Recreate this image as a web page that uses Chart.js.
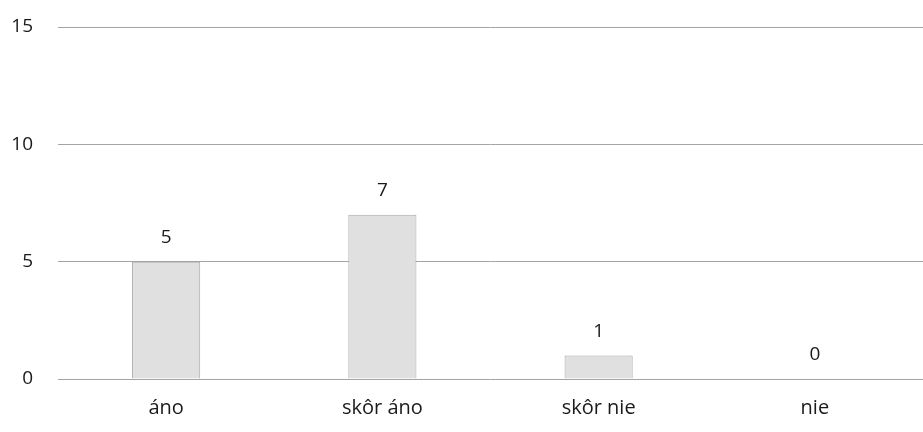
<!DOCTYPE html>
<html>
<head>
<meta charset="utf-8">
<script src="https://cdn.jsdelivr.net/npm/chart.js@4"></script>
<style>
	html, body { margin: 0; padding: 0; background: #fff; }
	#wrap { width: 923px; height: 432px; }
</style>
</head>
<body>
<div id="wrap"><canvas id="bar-chart"></canvas></div>
<script>
// chart data
const categories = [ 'áno', 'skôr áno', 'skôr nie', 'nie' ];
const answers = [ 5, 7, 1, 0 ];
const yTicks = [ 0, 5, 10, 15 ];

const fontFamily = '"Open Sans", "Liberation Sans", sans-serif';

// write the value above each bar
const valueLabels = {
	id: 'valueLabels',
	afterDatasetsDraw( chart ) {
		const c = chart.ctx;
		const meta = chart.getDatasetMeta( 0 );
		c.save();
		c.font = '19px ' + fontFamily;
		c.fillStyle = '#1a1a1a';
		c.textAlign = 'center';
		c.textBaseline = 'middle';
		meta.data.forEach( ( bar, i ) => {
			c.fillText( String( answers[ i ] ), bar.x, bar.y - 24 );
		} );
		c.restore();
	},
};

new Chart( document.getElementById( 'bar-chart' ), {
	type: 'bar',
	data: {
		labels: categories,
		datasets: [
			{
				data: answers,
				backgroundColor: '#e0e0e0',
				borderColor: '#a8a8a8',
				borderWidth: 1,
				barPercentage: 0.63,
				categoryPercentage: 0.5,
			},
		],
	},
	options: {
		responsive: true,
		maintainAspectRatio: false,
		animation: false,
		layout: { padding: { top: 27, right: 0, bottom: 0, left: 10 } },
		plugins: {
			legend: { display: false },
			tooltip: { enabled: false },
		},
		scales: {
			x: {
				grid: { display: false, drawTicks: false },
				border: { display: false },
				ticks: { color: '#1a1a1a', font: { family: fontFamily, size: 20 }, padding: 17 },
				afterFit: axis => {
					axis.height = 53;
				},
			},
			y: {
				min: yTicks[ 0 ],
				max: yTicks[ yTicks.length - 1 ],
				afterBuildTicks: axis => {
					axis.ticks = yTicks.map( v => ( { value: v } ) );
				},
				grid: { color: '#a4a4a4', lineWidth: 1, drawTicks: false },
				border: { display: false },
				ticks: { color: '#1a1a1a', font: { family: fontFamily, size: 19 }, padding: 25 },
				afterFit: axis => {
					axis.width = 48;
					axis.paddingTop = 0;
				},
			},
		},
	},
	plugins: [ valueLabels ],
} );
</script>
</body>
</html>
